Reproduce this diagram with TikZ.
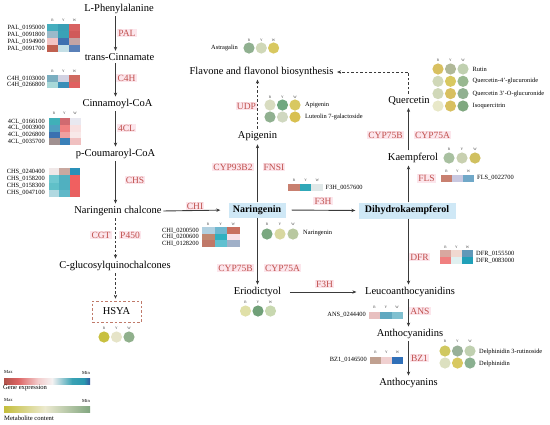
\documentclass[tikz,border=0pt]{standalone}
\usepackage{fontspec}
\setmainfont{Liberation Serif}
\usetikzlibrary{arrows.meta}
\definecolor{linec}{HTML}{3A3A3A}
\definecolor{enztx}{HTML}{C0504D}
\definecolor{enzbg}{HTML}{FCE6EC}
\definecolor{nodebg}{HTML}{CFE8F6}
\definecolor{hsyab}{HTML}{C07A6A}
\definecolor{hdrc}{HTML}{404040}
\newcommand\hmrow[7]{%
  \definecolor{hca}{HTML}{#5}\definecolor{hcb}{HTML}{#6}\definecolor{hcc}{HTML}{#7}%
  \fill[hca] (#1,#2) rectangle ++(#3+0.2,#4+0.2);
  \fill[hcb] (#1+#3,#2) rectangle ++(#3+0.2,#4+0.2);
  \fill[hcc] (#1+2*#3,#2) rectangle ++(#3,#4+0.2);
}
\newcommand\mcrow[6]{%
  \definecolor{mca}{HTML}{#4}\definecolor{mcb}{HTML}{#5}\definecolor{mcc}{HTML}{#6}%
  \fill[mca] (#1,#2) circle[radius=5.6pt];
  \fill[mcb] (#1+#3,#2) circle[radius=5.6pt];
  \fill[mcc] (#1+2*#3,#2) circle[radius=5.6pt];
}
\newcommand\rywhdr[4]{%
  \node[hdr] (#1r) at (#2,#3) {R};
  \node[hdr] (#1y) at (#2+#4,#3) {Y};
  \node[hdr] (#1w) at (#2+2*#4,#3) {W};
}
\begin{document}
\begin{tikzpicture}[x=1pt,y=-1pt,
  comp/.style={inner sep=0.5pt,font=\fontsize{10.5}{12}\selectfont},
  keynode/.style={fill=nodebg,inner sep=0pt,font=\bfseries\fontsize{10}{12}\selectfont},
  enz/.style={fill=enzbg,text=enztx,inner sep=1.2pt,font=\fontsize{9.5}{11}\selectfont},
  gene/.style={inner sep=0pt,font=\fontsize{6.4}{7}\selectfont},
  met/.style={inner sep=0pt,font=\fontsize{6.4}{7}\selectfont},
  hdr/.style={inner sep=0pt,text=hdrc,font=\fontsize{3.6}{4}\selectfont},
  lgd/.style={inner sep=0pt,font=\fontsize{4.6}{5}\selectfont},
  arr/.style={draw=linec,line width=0.9pt,shorten <=2pt,shorten >=2pt,-{Stealth[length=4pt,width=3.4pt]}},
  darr/.style={arr,dash pattern=on 2.5pt off 2pt}]
\useasboundingbox (0,0) rectangle (550,424);

% ---------------- left chain ----------------
\node[comp] (lphe) at (119,9) {L-Phenylalanine};
\node[comp] (tcin) at (119.5,57) {trans-Cinnamate};
\node[comp] (ccoa) at (117.5,104) {Cinnamoyl-CoA};
\node[comp] (pcoa) at (115.5,154) {p-Coumaroyl-CoA};
\node[comp] (nchal) at (118,211) {Naringenin chalcone};
\node[comp] (cgq) at (115,266) {C-glucosylquinochalcones};
\node[comp,draw=hsyab,line width=0.6pt,dash pattern=on 2.5pt off 2pt,minimum width=49pt,minimum height=21pt] (hsya) at (116.5,311.5) {HSYA};
\coordinate (lc) at (115.5,0);
\draw[arr] (lphe.south -| lc) -- (tcin.north -| lc);
\draw[arr] (tcin.south -| lc) -- (ccoa.north -| lc);
\draw[arr] (ccoa.south -| lc) -- (pcoa.north -| lc);
\draw[arr] (pcoa.south -| lc) -- (nchal.north -| lc);
\draw[darr] (nchal.south -| lc) -- (cgq.north -| lc);
\draw[darr] (cgq.south -| lc) -- (hsya.north -| lc);

\node[enz] (pal) at (127,33) {PAL};
\node[enz] (c4h) at (126.5,78) {C4H};
\node[enz] (fcl) at (126.5,128) {4CL};
\node[enz] (chs) at (135,180) {CHS};
\node[enz] (cgt) at (101,235) {CGT};
\node[enz] (p450) at (130,235) {P450};

% PAL heatmap
\rywhdr{pal}{52.5}{20}{11}
\hmrow{47}{24}{11}{7}{45AEBE}{3A9FB5}{D86262}
\hmrow{47}{31}{11}{7}{9BBACA}{3AA2B6}{D05A5A}
\hmrow{47}{38}{11}{7}{F2C4C4}{4070B0}{C4A4A4}
\hmrow{47}{45}{11}{7}{C06050}{C4DFE6}{5A80B8}
\node[gene,anchor=east] (g1) at (45,27.5) {PAL\_0195000};
\node[gene,anchor=east] (g2) at (45,34.5) {PAL\_0091800};
\node[gene,anchor=east] (g3) at (45,41.5) {PAL\_0194900};
\node[gene,anchor=east] (g4) at (45,48.5) {PAL\_0091700};
% C4H heatmap
\rywhdr{c4}{52.5}{71}{11}
\hmrow{47}{75}{11}{6.5}{7AAEC0}{D2D2E2}{D06A60}
\hmrow{47}{81.5}{11}{6.5}{A8D8D8}{3A8FB8}{E06060}
\node[gene,anchor=east] (g5) at (45,78.3) {C4H\_0103000};
\node[gene,anchor=east] (g6) at (45,84.8) {C4H\_0266800};
% 4CL heatmap
\rywhdr{fc}{54}{113}{10.5}
\hmrow{49}{118}{10.5}{6.75}{40B0B8}{D06A70}{E8E8F0}
\hmrow{49}{124.75}{10.5}{6.75}{50A0C0}{F08080}{F8E0E0}
\hmrow{49}{131.5}{10.5}{6.75}{3A70B0}{F0A0A0}{F8E8E8}
\hmrow{49}{138.25}{10.5}{6.75}{A09090}{3A80B8}{F0C0C0}
\node[gene,anchor=east] (g7) at (45,121.5) {4CL\_0166100};
\node[gene,anchor=east] (g8) at (45,128.2) {4CL\_0003900};
\node[gene,anchor=east] (g9) at (45,135) {4CL\_0026800};
\node[gene,anchor=east] (g10) at (45,141.7) {4CL\_0035700};
% CHS heatmap
\hmrow{49}{168}{10.4}{7.25}{F0E8E8}{C8A8A0}{2A90B8}
\hmrow{49}{175.25}{10.4}{7.25}{70C8D0}{50B0C0}{F06060}
\hmrow{49}{182.5}{10.4}{7.25}{60C0C8}{50B0C0}{F06060}
\hmrow{49}{189.75}{10.4}{7.25}{B0D8E0}{60B8C8}{E86060}
\node[gene,anchor=east] (g11) at (45,172) {CHS\_0240400};
\node[gene,anchor=east] (g12) at (45,179) {CHS\_0158200};
\node[gene,anchor=east] (g13) at (45,186) {CHS\_0158300};
\node[gene,anchor=east] (g14) at (45,193) {CHS\_0047100};

% HSYA circles
\rywhdr{hs}{104}{328}{12.5}
\mcrow{104}{337}{12.5}{C8C040}{E6E4C8}{90B08C}

% ---------------- centre ----------------
\node[keynode,minimum width=57pt,minimum height=15pt] (nar) at (257,210) {Naringenin};
\node[keynode,minimum width=97pt,minimum height=16pt] (dhk) at (407,210.5) {Dihydrokaempferol};
\node[comp] (api) at (257.5,136) {Apigenin};
\node[comp] (flav) at (261.5,72) {Flavone and flavonol biosynthesis};
\node[comp] (que) at (409,101) {Quercetin};
\node[comp] (kae) at (413,158) {Kaempferol};
\node[comp] (eri) at (257.5,292) {Eriodictyol};
\node[comp] (leu) at (410,292) {Leucoanthocyanidins};
\node[comp] (antd) at (410,334) {Anthocyanidins};
\node[comp] (ants) at (408.5,383) {Anthocyanins};
\coordinate (rc) at (408.5,0);
\coordinate (mc) at (257.5,0);

\draw[arr,shorten <=1pt,shorten >=8pt] (nchal.east) -- (nar.west);
\draw[arr,shorten <=6pt,shorten >=3pt] (nar.east) -- (dhk.west);
\draw[arr,shorten <=0pt,shorten >=3pt] (nar.north -| mc) -- (api.south -| mc);
\draw[darr] (api.north -| mc) -- (flav.south -| mc);
\draw[arr,shorten <=0pt] (nar.south -| mc) -- (eri.north -| mc);
\draw[arr,shorten <=8pt,shorten >=8pt] (eri.east) -- (leu.west);
\draw[arr,shorten <=0pt] (dhk.north -| rc) -- (kae.south -| rc);
\draw[arr] (kae.north -| rc) -- (que.south -| rc);
\draw[darr,shorten >=3pt] (que.north -| rc) -- (rc |- flav) -- (flav.east);
\draw[arr,shorten <=0pt] (dhk.south -| rc) -- (leu.north -| rc);
\draw[arr] (leu.south -| rc) -- (antd.north -| rc);
\draw[arr] (antd.south -| rc) -- (ants.north -| rc);

\node[enz] (chi) at (195,206) {CHI};
\node[enz] (f3ha) at (323,201) {F3H};
\node[enz] (f3hb) at (324.5,284) {F3H};
\node[enz] (cyp93) at (233,167) {CYP93B2};
\node[enz] (fnsi) at (274,167) {FNSI};
\node[enz] (udp) at (246.5,106) {UDP};
\node[enz] (cyp75bl) at (235.5,268) {CYP75B};
\node[enz] (cyp75al) at (282.5,268) {CYP75A};
\node[enz] (cyp75bu) at (385.5,135) {CYP75B};
\node[enz] (cyp75au) at (432.5,135) {CYP75A};
\node[enz] (fls) at (426.5,178.5) {FLS};
\node[enz] (dfr) at (419.5,257) {DFR};
\node[enz] (ans) at (420,311) {ANS};
\node[enz] (bz1) at (419.5,358) {BZ1};

% F3H heatmap
\rywhdr{f3}{294}{180}{11.7}
\hmrow{288}{184}{11.7}{7}{C88070}{30A8B8}{E0E8E8}
\node[gene,anchor=west] (g15) at (325.5,188) {F3H\_0057600};
% CHI heatmap
\rywhdr{ch}{208}{224}{12.7}
\hmrow{202}{227}{12.7}{6.7}{B0D0E0}{70B8D0}{C87060}
\hmrow{202}{233.7}{12.7}{6.7}{C08870}{30B0C0}{F8E0E8}
\hmrow{202}{240.4}{12.7}{6.7}{C07868}{60C0D0}{A0B0C8}
\node[gene,anchor=east] (g16) at (199,230.5) {CHI\_0200500};
\node[gene,anchor=east] (g17) at (199,237) {CHI\_0200600};
\node[gene,anchor=east] (g18) at (199,243.7) {CHI\_0128200};
% FLS heatmap
\rywhdr{fl}{446.5}{171}{11}
\hmrow{441}{174.5}{11}{7}{C88070}{C8C8E0}{70A8C8}
\node[gene,anchor=west] (g19) at (477,178) {FLS\_0022700};
% DFR heatmap
\rywhdr{df}{445.5}{247}{11}
\hmrow{440}{250}{11}{7}{D8A8A0}{F0D8D0}{6098B8}
\hmrow{440}{257}{11}{7}{F08080}{E0F0F0}{20A0B8}
\node[gene,anchor=west] (g20) at (476,253.5) {DFR\_0155500};
\node[gene,anchor=west] (g21) at (476,260.5) {DFR\_0083000};
% ANS heatmap
\rywhdr{an}{374.5}{307}{11.3}
\hmrow{369}{311.5}{11.3}{7}{E8C0C0}{60A8C0}{80C0D0}
\node[gene,anchor=east] (g22) at (366,315) {ANS\_0244400};
% BZ1 heatmap
\rywhdr{bz}{375.5}{352}{11}
\hmrow{370}{356.5}{11}{7}{C0A090}{F0D0D0}{3070B8}
\node[gene,anchor=east] (g23) at (367,360) {BZ1\_0146500};

% metabolite circles
\rywhdr{as}{249}{40}{12.3}
\mcrow{249}{48}{12.3}{90B090}{D0D8B8}{D8C860}
\node[met,anchor=east] (m1) at (238,48) {Astragalin};
\rywhdr{ap}{270}{97}{12.5}
\mcrow{270}{105}{12.5}{D8DCC0}{70A880}{D8C860}
\mcrow{270}{117}{12.5}{90B090}{D0D8C0}{D8C050}
\node[met,anchor=west] (m2) at (305,105) {Apigenin};
\node[met,anchor=west] (m3) at (305,117) {Luteolin 7-galactoside};
\rywhdr{qu}{438}{60}{12.5}
\mcrow{438}{69}{12.5}{D8C060}{B0B898}{C0D0B0}
\mcrow{438}{81.3}{12.5}{D0D8B8}{D8C860}{98B890}
\mcrow{438}{93.6}{12.5}{D0D8B8}{D8C060}{90B090}
\mcrow{438}{106}{12.5}{E8E8C8}{D8C060}{80A880}
\node[met,anchor=west] (m4) at (472.5,69) {Rutin};
\node[met,anchor=west] (m5) at (472.5,81.3) {Quercetin-4'-glucuronide};
\node[met,anchor=west] (m6) at (472.5,93.6) {Quercetin 3'-O-glucuronide};
\node[met,anchor=west] (m7) at (472.5,106) {Isoquercitrin};
\rywhdr{ka}{449}{149}{13}
\mcrow{449}{158}{13}{A8C0A0}{C8D0B0}{D0C060}
\rywhdr{na}{267}{224}{13}
\mcrow{267}{234}{13}{7AA880}{D8D8A0}{B8C8A0}
\node[met,anchor=west] (m8) at (303,233) {Naringenin};
\rywhdr{er}{245.5}{302}{12.5}
\mcrow{245.5}{311}{12.5}{E0E0A8}{70A078}{C8D8B0}
\rywhdr{de}{445}{341}{12.5}
\mcrow{445}{351}{12.5}{D0C860}{98B098}{C0D0B0}
\mcrow{445}{363}{12.5}{DCE0C0}{D8C860}{8AB090}
\node[met,anchor=west] (m9) at (479,352) {Delphinidin 3-rutinoside};
\node[met,anchor=west] (m10) at (479,364) {Delphinidin};

% ---------------- legend ----------------
\node[lgd,anchor=west] (gmax) at (4,372.5) {Max};
\node[lgd,anchor=east] (gmin) at (90,372.5) {Min};
\definecolor{ga}{HTML}{B0524A}\definecolor{gb}{HTML}{DD6464}\definecolor{gc}{HTML}{F3CCCC}
\definecolor{gd}{HTML}{F5F2F2}\definecolor{ge}{HTML}{3AA2B4}\definecolor{gf}{HTML}{2A98B0}\definecolor{gg}{HTML}{3558A0}
\shade[left color=ga,right color=gb] (4,378) rectangle (18.2,384);
\shade[left color=gb,right color=gc] (18,378) rectangle (38.2,384);
\shade[left color=gc,right color=gd] (38,378) rectangle (52.2,384);
\shade[left color=gd,right color=ge] (52,378) rectangle (72.2,384);
\shade[left color=ge,right color=gf] (72,378) rectangle (84.2,384);
\shade[left color=gf,right color=gg] (84,378) rectangle (90,384);
\node[inner sep=0pt,anchor=west,font=\fontsize{6.6}{7}\selectfont] (gexp) at (3,388) {Gene expression};
\node[lgd,anchor=west] (mmax) at (4,400.5) {Max};
\node[lgd,anchor=east] (mmin) at (90,400.5) {Min};
\definecolor{ma}{HTML}{C4BE3C}\definecolor{mb}{HTML}{ECEAD0}\definecolor{mc}{HTML}{82A680}
\shade[left color=ma,right color=mb] (4,406) rectangle (45.2,412);
\shade[left color=mb,right color=mc] (45,406) rectangle (90,412);
\node[inner sep=0pt,anchor=west,font=\fontsize{6.6}{7}\selectfont] (mcont) at (4,418) {Metabolite content};
\end{tikzpicture}
\end{document}
